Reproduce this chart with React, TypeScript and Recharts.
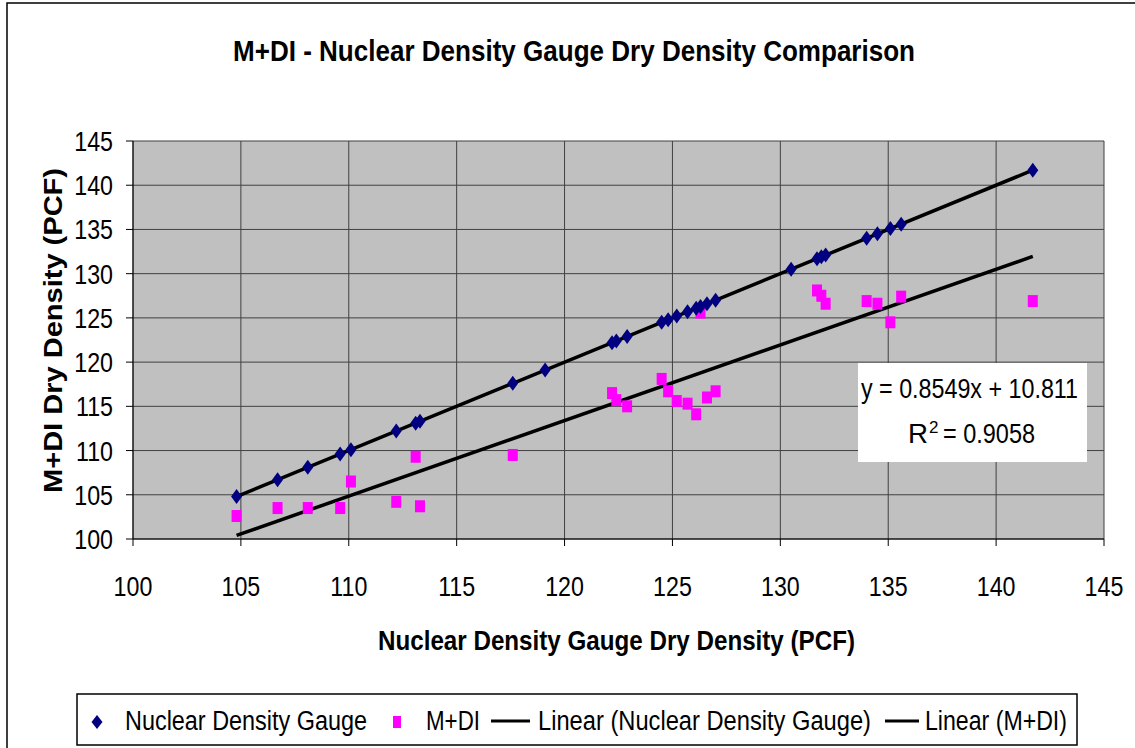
import React from 'react';
import { ScatterChart, Scatter, XAxis, YAxis, CartesianGrid } from 'recharts';

// gauge readings (the gauge series is plotted against itself)
const gaugeDensity = [
  104.8, 106.7, 108.1, 109.6, 110.1, 112.2, 113.1, 113.3, 117.6, 119.1,
  122.2, 122.4, 122.9, 124.5, 124.8, 125.2, 125.7, 126.1, 126.3, 126.6,
  127.0, 130.5, 131.7, 131.9, 132.1, 134.0, 134.5, 135.1, 135.6, 141.7,
];

const mdiGauge = [
  104.8, 106.7, 108.1, 109.6, 110.1, 112.2, 113.1, 113.3, 117.6,
  122.2, 122.4, 122.9, 124.5, 124.8, 125.2, 125.7, 126.1, 126.3, 126.6,
  127.0, 131.7, 131.9, 132.1, 134.0, 134.5, 135.1, 135.6, 141.7,
];
const mdiDensity = [
  102.6, 103.5, 103.5, 103.5, 106.5, 104.2, 109.3, 103.7, 109.5,
  116.5, 115.7, 115.0, 118.1, 116.7, 115.6, 115.3, 114.1, 125.6, 116.0,
  116.7, 128.1, 127.5, 126.6, 126.9, 126.6, 124.5, 127.4, 126.9,
];

const ticks = [100, 105, 110, 115, 120, 125, 130, 135, 140, 145];

// printed trendline for M+DI
const slope = 0.8549;
const intercept = 10.811;

const FONT = "'Liberation Sans', Arial, sans-serif";
const SQUEEZE = 0.83;

const gaugeData = gaugeDensity.map(v => ({ x: v, y: v }));
const mdiData = mdiGauge.map((v, i) => ({ x: v, y: mdiDensity[i] }));

const xMin = Math.min(...gaugeDensity);
const xMax = Math.max(...gaugeDensity);
const gaugeTrend = [{ x: xMin, y: xMin }, { x: xMax, y: xMax }];
const mdiTrend = [
  { x: xMin, y: slope * xMin + intercept },
  { x: xMax, y: slope * xMax + intercept },
];

const Diamond = (props: any) => {
  const { cx, cy } = props;
  return <path d={`M${cx},${cy - 7.5} L${cx + 5.5},${cy} L${cx},${cy + 7.5} L${cx - 5.5},${cy} Z`} fill="#000080" />;
};

const Square = (props: any) => {
  const { cx, cy } = props;
  return <rect x={cx - 5} y={cy - 6} width={10} height={12} fill="#FF00FF" />;
};

const NoDot = () => <g />;

const XTick = (props: any) => {
  const { x, y, payload } = props;
  return (
    <text transform={`translate(${x},${y + 48}) scale(${SQUEEZE},1)`} textAnchor="middle" fontSize={28} fontFamily={FONT} fill="#000">
      {payload.value}
    </text>
  );
};

const YTick = (props: any) => {
  const { x, y, payload } = props;
  return (
    <text transform={`translate(${x - 11},${y + 10}) scale(${SQUEEZE},1)`} textAnchor="end" fontSize={28} fontFamily={FONT} fill="#000">
      {payload.value}
    </text>
  );
};

const T = ({ x, y, w, size = 27, bold = false, children }: any) => (
  <text x={x} y={y} textLength={w} lengthAdjust="spacingAndGlyphs" fontSize={size} fontWeight={bold ? 'bold' : 'normal'} fontFamily={FONT} fill="#000">
    {children}
  </text>
);

const Overlay = () => (
  <svg width={1135} height={748} style={{ position: 'absolute', left: 0, top: 0, pointerEvents: 'none' }}>
    {/* outer frame */}
    <rect x={7} y={3} width={1140} height={760} fill="none" stroke="#000" strokeWidth={1.5} />
    {/* title */}
    <T x={233} y={61} w={682} size={29} bold>M+DI - Nuclear Density Gauge Dry Density Comparison</T>
    {/* axis titles */}
    <T x={378} y={650} w={477} size={27} bold>Nuclear Density Gauge Dry Density (PCF)</T>
    <g transform="translate(62,493) rotate(-90)">
      <T x={0} y={0} w={325} size={25} bold>M+DI Dry Density (PCF)</T>
    </g>
    {/* regression box */}
    <rect x={858} y={363} width={229} height={99} fill="#fff" />
    <T x={861} y={398} w={217} size={27}>y = 0.8549x + 10.811</T>
    <T x={908} y={443} w={20} size={27}>R</T>
    <text x={929} y={433} fontSize={17} fontFamily={FONT} fill="#000">2</text>
    <T x={943} y={443} w={92} size={27}>= 0.9058</T>
    {/* legend */}
    <rect x={77} y={694} width={1000} height={51} fill="#fff" stroke="#000" strokeWidth={1.5} />
    <path d="M97,715 L102.5,722 L97,729 L91.5,722 Z" fill="#000080" />
    <T x={125} y={730} w={242}>Nuclear Density Gauge</T>
    <rect x={393} y={716} width={8} height={12} fill="#FF00FF" />
    <T x={426} y={730} w={54}>M+DI</T>
    <line x1={491} y1={721} x2={530} y2={721} stroke="#000" strokeWidth={3} />
    <T x={538} y={730} w={333}>Linear (Nuclear Density Gauge)</T>
    <line x1={885} y1={721} x2={919} y2={721} stroke="#000" strokeWidth={3} />
    <T x={925} y={730} w={142}>Linear (M+DI)</T>
  </svg>
);

export default function App() {
  return (
    <div style={{ position: 'absolute', left: 0, top: 0, width: 1135, height: 748, background: '#fff', overflow: 'hidden' }}>
      <ScatterChart width={1135} height={748} margin={{ top: 141, right: 31, bottom: 149, left: 73 }}>
        <CartesianGrid stroke="#404040" fill="#C0C0C0" horizontal vertical />
        <XAxis
          type="number"
          dataKey="x"
          domain={[100, 145]}
          ticks={ticks}
          interval={0}
          height={60}
          tick={<XTick />}
          tickLine={{ stroke: '#000' }}
          tickSize={7}
          axisLine={{ stroke: '#000' }}
          allowDataOverflow
        />
        <YAxis
          type="number"
          dataKey="y"
          domain={[100, 145]}
          ticks={ticks}
          interval={0}
          width={60}
          tick={<YTick />}
          tickLine={{ stroke: '#000' }}
          tickSize={7}
          axisLine={{ stroke: '#000' }}
          allowDataOverflow
        />
        <Scatter name="Linear (Nuclear Density Gauge)" data={gaugeTrend} line={{ stroke: '#000', strokeWidth: 3.5 }} shape={NoDot} isAnimationActive={false} />
        <Scatter name="Linear (M+DI)" data={mdiTrend} line={{ stroke: '#000', strokeWidth: 3.5 }} shape={NoDot} isAnimationActive={false} />
        <Scatter name="M+DI" data={mdiData} shape={Square} isAnimationActive={false} />
        <Scatter name="Nuclear Density Gauge" data={gaugeData} shape={Diamond} isAnimationActive={false} />
      </ScatterChart>
      <Overlay />
    </div>
  );
}
